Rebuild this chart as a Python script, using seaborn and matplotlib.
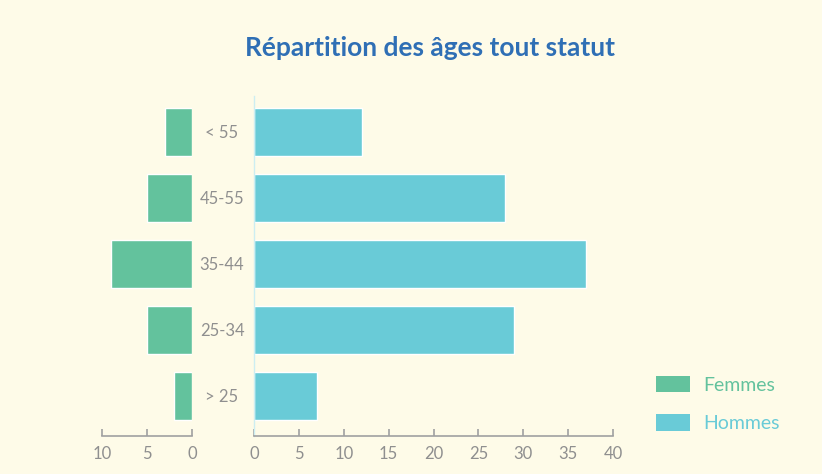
import matplotlib
matplotlib.use("Agg")
import matplotlib.pyplot as plt
import seaborn as sns
import pandas as pd
from matplotlib.patches import Patch

categories = ["< 55", "45-55", "35-44", "25-34", "> 25"]
femmes = [3, 5, 9, 5, 2]
hommes = [12, 28, 37, 29, 7]
left_ticks = [10, 5, 0]
right_ticks = [0, 5, 10, 15, 20, 25, 30, 35, 40]

BG = "#fefbe8"
GREEN = "#63c29d"
CYAN = "#69cbd7"
GRAY = "#8f8f8f"
TITLE = "#2f6fb5"

sns.set_theme(style="white")
plt.rcParams["font.family"] = ["Lato", "DejaVu Sans"]

df = pd.DataFrame({"cat": categories, "femmes": femmes, "hommes": hommes})

fig = plt.figure(figsize=(8.22, 4.74), dpi=100)
fig.patch.set_facecolor(BG)

W, H = 822, 474
bottom = 1 - 436 / H
height = 340 / H
axL = fig.add_axes([102 / W, bottom, 90 / W, height])
axR = fig.add_axes([254 / W, bottom, 359 / W, height])

sns.barplot(data=df, x="femmes", y="cat", ax=axL, color=GREEN, width=0.73,
            saturation=1, order=categories)
sns.barplot(data=df, x="hommes", y="cat", ax=axR, color=CYAN, width=0.73,
            saturation=1, order=categories)

for ax in (axL, axR):
    ax.set_facecolor(BG)
    ax.set_xlabel("")
    ax.set_ylabel("")
    ax.set_ylim(4.606, -0.545)
    for s in ("top", "right"):
        ax.spines[s].set_visible(False)
    ax.spines["bottom"].set_color("#a0a0a0")
    ax.spines["bottom"].set_linewidth(1.2)
    ax.tick_params(axis="x", direction="in", length=5, width=1.2, color="#a0a0a0",
                   labelsize=12, labelcolor=GRAY, pad=7, bottom=True)

axL.set_xlim(10, 0)
axL.set_xticks(left_ticks)
axL.spines["left"].set_visible(False)
axL.set_yticks([])

axR.set_xlim(0, 40)
axR.set_xticks(right_ticks)
axR.spines["left"].set_color("#cdeef2")
axR.spines["left"].set_linewidth(1.0)
axR.set_yticks(range(len(categories)))
axR.set_yticklabels(categories)
axR.tick_params(axis="y", length=0, pad=23, labelsize=12, labelcolor=GRAY)
for lab in axR.get_yticklabels():
    lab.set_ha("center")

fig.text(430 / W, 1 - 48 / H, "Répartition des âges tout statut", ha="center",
         va="center", fontsize=19, fontweight="bold", color=TITLE)

handles = [Patch(facecolor=GREEN, edgecolor="none", label="Femmes"),
           Patch(facecolor=CYAN, edgecolor="none", label="Hommes")]
leg = fig.legend(handles=handles, loc="upper left", bbox_to_anchor=(638 / W, 1 - 358 / H),
                 frameon=False, fontsize=14, handlelength=1.75, handleheight=0.95,
                 labelspacing=1.05, handletextpad=0.7, labelcolor=[GREEN, CYAN])

fig.savefig("out.png", dpi=100, facecolor=BG)
